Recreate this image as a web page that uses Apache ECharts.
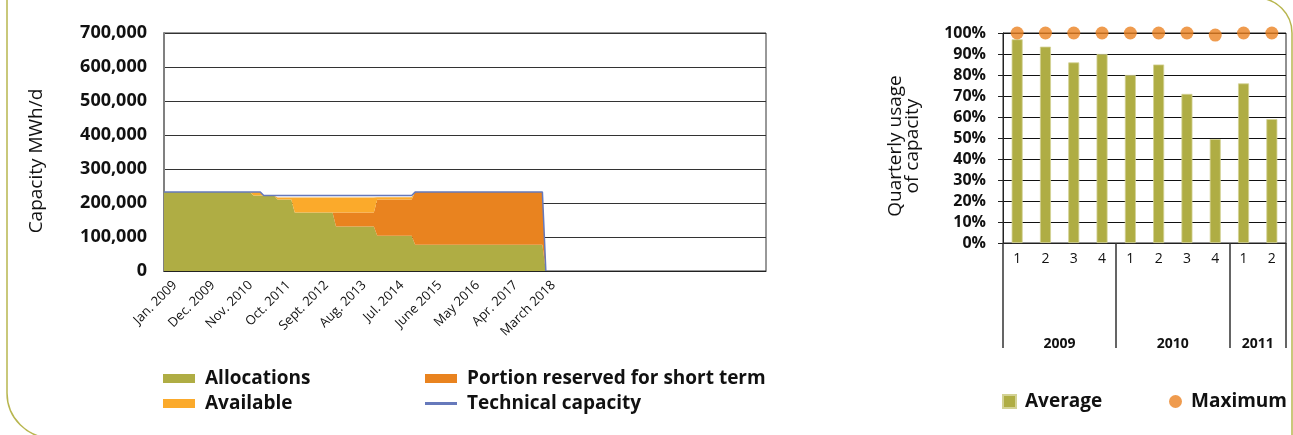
<!DOCTYPE html>
<html>
<head>
<meta charset="utf-8">
<script src="https://cdn.jsdelivr.net/npm/echarts@6/dist/echarts.min.js"></script>
<style>
  html, body { margin: 0; padding: 0; background: #ffffff; }
  #chart { width: 1293px; height: 435px; }
</style>
</head>
<body>
<div id="chart"></div>
<script>
// ---- Capacity per month, Jan. 2009 to Apr. 2018 (MWh/d), one row per year ----
const allocations = [
  232000,232000,232000,232000,232000,232000,232000,232000,232000,232000,232000,232000,
  232000,232000,232000,232000,232000,232000,232000,232000,232000,232000,232000,232000,
  232000,232000,222000,222000,222000,222000,222000,222000,222000,210000,210000,210000,
  210000,210000,172000,172000,172000,172000,172000,172000,172000,172000,172000,172000,
  172000,172000,131000,131000,131000,131000,131000,131000,131000,131000,131000,131000,
  131000,131000,104000,104000,104000,104000,104000,104000,104000,104000,104000,104000,
  104000,77000,77000,77000,77000,77000,77000,77000,77000,77000,77000,77000,
  77000,77000,77000,77000,77000,77000,77000,77000,77000,77000,77000,77000,
  77000,77000,77000,77000,77000,77000,77000,77000,77000,77000,77000,77000,
  77000,77000,77000,0
];
const shortTerm = [
  0,0,0,0,0,0,0,0,0,0,0,0,
  0,0,0,0,0,0,0,0,0,0,0,0,
  0,0,0,0,0,0,0,0,0,0,0,0,
  0,0,0,0,0,0,0,0,0,0,0,0,
  0,0,41000,41000,41000,41000,41000,41000,41000,41000,41000,41000,
  41000,41000,106000,106000,106000,106000,106000,106000,106000,106000,106000,106000,
  106000,155000,155000,155000,155000,155000,155000,155000,155000,155000,155000,155000,
  155000,155000,155000,155000,155000,155000,155000,155000,155000,155000,155000,155000,
  155000,155000,155000,155000,155000,155000,155000,155000,155000,155000,155000,155000,
  155000,155000,155000,0
];
const available = [
  0,0,0,0,0,0,0,0,0,0,0,0,
  0,0,0,0,0,0,0,0,0,0,0,0,
  0,0,10000,10000,10000,0,0,0,0,6000,6000,6000,
  6000,6000,44000,44000,44000,44000,44000,44000,44000,44000,44000,44000,
  44000,44000,44000,44000,44000,44000,44000,44000,44000,44000,44000,44000,
  44000,44000,7000,7000,7000,7000,7000,7000,7000,7000,7000,7000,
  7000,0,0,0,0,0,0,0,0,0,0,0,
  0,0,0,0,0,0,0,0,0,0,0,0,
  0,0,0,0,0,0,0,0,0,0,0,0,
  0,0,0,0
];
const technicalCapacity = [
  232000,232000,232000,232000,232000,232000,232000,232000,232000,232000,232000,232000,
  232000,232000,232000,232000,232000,232000,232000,232000,232000,232000,232000,232000,
  232000,232000,232000,232000,232000,222000,222000,222000,222000,222000,222000,222000,
  222000,222000,222000,222000,222000,222000,222000,222000,222000,222000,222000,222000,
  222000,222000,222000,222000,222000,222000,222000,222000,222000,222000,222000,222000,
  222000,222000,222000,222000,222000,222000,222000,222000,222000,222000,222000,222000,
  222000,232000,232000,232000,232000,232000,232000,232000,232000,232000,232000,232000,
  232000,232000,232000,232000,232000,232000,232000,232000,232000,232000,232000,232000,
  232000,232000,232000,232000,232000,232000,232000,232000,232000,232000,232000,232000,
  232000,232000,232000,0
];
const monthTickLabels = ['Jan. 2009', 'Dec. 2009', 'Nov. 2010', 'Oct. 2011', 'Sept. 2012',
  'Aug. 2013', 'Jul. 2014', 'June 2015', 'May 2016', 'Apr. 2017', 'March 2018'];
const monthTickStep = 11;
const capacityTicks = [0, 100000, 200000, 300000, 400000, 500000, 600000, 700000];

// ---- Quarterly usage of capacity (%) ----
const quarters = ['1', '2', '3', '4', '1', '2', '3', '4', '1', '2'];
const years = ['2009', '2010', '2011'];
const quartersPerYear = [4, 4, 2];
const averageUsage = [97, 93.5, 86, 90, 80, 85, 71, 49.5, 76, 59];
const maximumUsage = [100, 100, 100, 100, 100, 100, 100, 99, 100, 100];

// Month categories of the time axis (Jan. 2009 onward)
const monthCount = 176;
const months = [];
for (let i = 0; i < monthCount; i++) {
  const y = 2009 + Math.floor(i / 12);
  const m = (i % 12) + 1;
  months.push(y + '-' + (m < 10 ? '0' + m : m));
}

// Year group boundaries and centres on the quarter scale
const yearBounds = [0];
const yearCenters = [];
quartersPerYear.forEach(function (n) {
  const start = yearBounds[yearBounds.length - 1];
  yearCenters.push(start + n / 2);
  yearBounds.push(start + n);
});

const FONT = "'Open Sans', 'Noto Sans', sans-serif";
const GREEN = '#afad44';
const ORANGE_LIGHT = '#fbaa2b';
const ORANGE_DARK = '#e9831f';
const BLUE = '#6679bb';
const DOT = '#eb8222';
const INK = '#111111';

function thousands(v) {
  return String(v).replace(/\B(?=(\d{3})+(?!\d))/g, ',');
}

const legendBase = {
  padding: 0, itemGap: 0, itemWidth: 32, itemHeight: 9, icon: 'rect', selectedMode: false,
  textStyle: { fontFamily: FONT, fontSize: 19, fontWeight: 'bold', color: INK, padding: [0, 0, 0, 5] }
};

const chart = echarts.init(document.getElementById('chart'), null, { renderer: 'canvas' });
chart.setOption({
  animation: false,
  backgroundColor: '#ffffff',
  textStyle: { fontFamily: FONT },
  graphic: [{
    type: 'rect', silent: true, z: -10,
    shape: { x: 7, y: -2, width: 1285, height: 440, r: [0, 35, 0, 45] },
    style: { fill: 'none', stroke: '#b8b64f', lineWidth: 1.5 }
  }],
  grid: [
    { left: 164, top: 33, width: 602, height: 238, show: true, borderColor: '#333333', borderWidth: 1 },
    { left: 1003, top: 33, width: 283, height: 210, show: true, borderColor: '#222222', borderWidth: 1 }
  ],
  legend: [
    Object.assign({}, legendBase, { data: ['Allocations'], left: 163, top: 369 }),
    Object.assign({}, legendBase, { data: ['Available'], left: 163, top: 394 }),
    Object.assign({}, legendBase, { data: ['Portion reserved for short term'], left: 425, top: 369 }),
    Object.assign({}, legendBase, { data: ['Technical capacity'], left: 425, top: 394, itemHeight: 3 }),
    Object.assign({}, legendBase, { data: ['Average'], left: 1002, top: 392, itemWidth: 13, itemHeight: 13,
      textStyle: Object.assign({}, legendBase.textStyle, { padding: [0, 0, 0, 4] }) }),
    Object.assign({}, legendBase, { data: ['Maximum'], left: 1169, top: 392, icon: 'circle', itemWidth: 13, itemHeight: 13,
      textStyle: Object.assign({}, legendBase.textStyle, { padding: [0, 0, 0, 4] }) })
  ],
  xAxis: [
    {
      gridIndex: 0, type: 'category', data: months, boundaryGap: false,
      axisTick: { show: false },
      axisLine: { lineStyle: { color: '#222222', width: 1 } },
      axisLabel: {
        interval: monthTickStep - 1, rotate: 45, margin: 14, verticalAlign: 'top', padding: [0, -9, 0, 0],
        fontSize: 13, color: INK,
        formatter: function (v, i) {
          const k = i / monthTickStep;
          return (i % monthTickStep === 0 && k < monthTickLabels.length) ? monthTickLabels[k] : '';
        }
      }
    },
    {
      gridIndex: 1, type: 'category', data: quarters,
      axisTick: { show: false },
      axisLine: { lineStyle: { color: '#222222', width: 1 } },
      axisLabel: { margin: 9, fontSize: 14, color: INK }
    },
    {
      gridIndex: 1, type: 'value', min: 0, max: quarters.length, position: 'bottom',
      axisLine: { show: false }, splitLine: { show: false },
      axisTick: { show: true, customValues: yearBounds, length: 105, lineStyle: { color: '#333333', width: 1.5 } },
      axisLabel: {
        customValues: yearCenters, margin: 94, fontSize: 14, fontWeight: 'bold', color: INK,
        formatter: function (v) { return years[yearCenters.indexOf(v)]; }
      }
    }
  ],
  yAxis: [
    {
      gridIndex: 0, type: 'value', min: capacityTicks[0], max: capacityTicks[capacityTicks.length - 1], interval: 100000,
      axisLine: { show: true, lineStyle: { color: '#808080', width: 2 } },
      splitLine: { lineStyle: { color: '#333333', width: 1 } },
      axisLabel: { margin: 17, fontSize: 18, fontWeight: 'bold', color: INK, formatter: thousands },
      name: 'Capacity MWh/d', nameLocation: 'middle', nameGap: 118,
      nameTextStyle: { fontSize: 19, color: INK, padding: [0, 18, 0, 0] }
    },
    {
      gridIndex: 1, type: 'value', min: 0, max: 100, interval: 10,
      axisLine: { show: true, lineStyle: { color: '#222222', width: 1 } },
      splitLine: { lineStyle: { color: '#111111', width: 1 } },
      axisLabel: { margin: 17, fontSize: 16, fontWeight: 'bold', color: INK, formatter: '{value}%' },
      name: 'Quarterly usage\nof capacity', nameLocation: 'middle', nameGap: 82,
      nameTextStyle: { fontSize: 19, lineHeight: 17, color: INK, padding: [0, 16, 0, 0] }
    }
  ],
  series: [
    {
      name: 'Allocations', type: 'line', xAxisIndex: 0, yAxisIndex: 0, stack: 'capacity',
      data: allocations, symbol: 'none', lineStyle: { width: 0 },
      itemStyle: { color: GREEN }, areaStyle: { color: GREEN, opacity: 1 }
    },
    {
      name: 'Portion reserved for short term', type: 'line', xAxisIndex: 0, yAxisIndex: 0, stack: 'capacity',
      data: shortTerm, symbol: 'none', lineStyle: { width: 0 },
      itemStyle: { color: ORANGE_DARK }, areaStyle: { color: ORANGE_DARK, opacity: 1 }
    },
    {
      name: 'Available', type: 'line', xAxisIndex: 0, yAxisIndex: 0, stack: 'capacity',
      data: available, symbol: 'none', lineStyle: { width: 0 },
      itemStyle: { color: ORANGE_LIGHT }, areaStyle: { color: ORANGE_LIGHT, opacity: 1 }
    },
    {
      name: 'Technical capacity', type: 'line', xAxisIndex: 0, yAxisIndex: 0, z: 5,
      data: technicalCapacity, symbol: 'none',
      lineStyle: { color: BLUE, width: 1.5 }, itemStyle: { color: BLUE }
    },
    {
      name: 'Average', type: 'bar', xAxisIndex: 1, yAxisIndex: 1, data: averageUsage, barWidth: 11,
      itemStyle: { color: GREEN, borderColor: '#d3d294', borderWidth: 0.8 }
    },
    {
      name: 'Maximum', type: 'scatter', xAxisIndex: 1, yAxisIndex: 1, data: maximumUsage,
      symbol: 'circle', symbolSize: 13, clip: false, z: 5, itemStyle: { color: DOT }
    }
  ]
});
</script>
</body>
</html>
